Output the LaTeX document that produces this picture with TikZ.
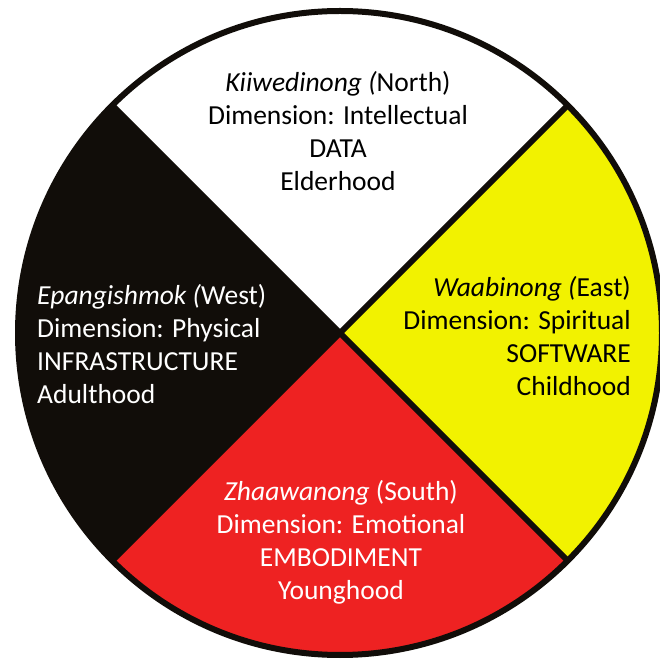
\documentclass[tikz,border=0pt]{standalone}
\usepackage{fontspec}
\setmainfont{Carlito}
\usetikzlibrary{positioning}
\definecolor{wheelblack}{HTML}{110D09}
\definecolor{wheelyellow}{HTML}{F2F200}
\definecolor{wheelred}{HTML}{EE2222}

\begin{document}
\begin{tikzpicture}[
  x=1pt, y=1pt,
  font=\fontsize{27.5}{33}\selectfont,
  quadtext/.style={
    inner sep=0pt
  },
  rim/.style={line width=6pt, wheelblack}
]
\useasboundingbox (0,0) rectangle (660,662);

% Wheel
\coordinate (c) at (340,329);
\fill[wheelblack] (c) circle (322);
\fill[white] (c) -- ++(45:322) arc[start angle=45, end angle=135, radius=322] -- cycle;
\fill[wheelyellow] (c) -- ++(-45:322) arc[start angle=-45, end angle=45, radius=322] -- cycle;
\fill[wheelred] (c) -- ++(-135:322) arc[start angle=-135, end angle=-45, radius=322] -- cycle;
\draw[rim] (c) ++(45:322) -- ++(-135:644);
\draw[rim] (c) ++(135:322) -- ++(-45:644);
\draw[rim] (c) circle (322);

% Directions
\node[quadtext, align=center, text=black] (north) at (338,531)
  {\textit{Kiiwedinong (}North)\\Dimension: Intellectual\\DATA\\Elderhood};
\node[quadtext, align=left, text=white, anchor=west] (west) at (37,318)
  {\textit{Epangishmok (}West)\\Dimension: Physical\\INFRASTRUCTURE\\Adulthood};
\node[quadtext, align=right, text=black, anchor=east] (east) at (631,325.5)
  {\textit{Waabinong (}East)\\Dimension: Spiritual\\SOFTWARE\\Childhood};
\node[quadtext, align=center, text=white] (south) at (341,120)
  {\textit{Zhaawanong} (South)\\Dimension: Emotional\\EMBODIMENT\\Younghood};

\end{tikzpicture}
\end{document}
